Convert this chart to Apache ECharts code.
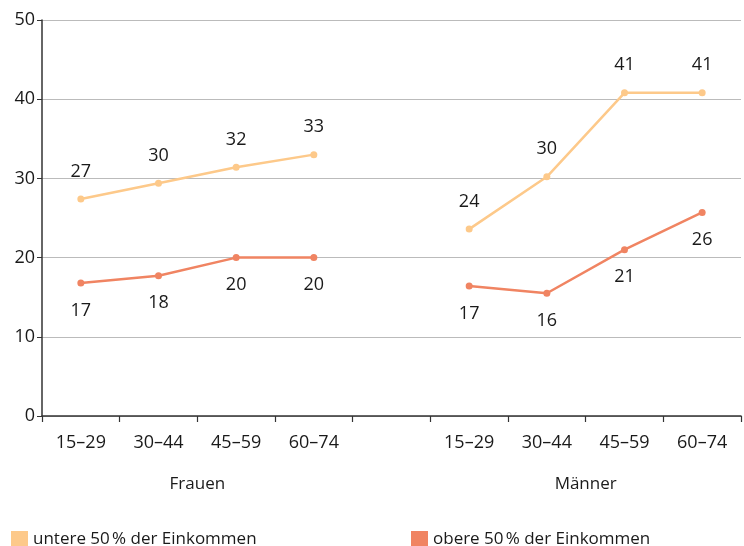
<!DOCTYPE html>
<html><head><meta charset="utf-8">
<script src="https://cdn.jsdelivr.net/npm/echarts@6/dist/echarts.min.js"></script>
<style>html,body{margin:0;padding:0;background:#fff}#c{width:744px;height:546px}</style>
</head><body><div id="c"></div>
<script>
const categories = ['15–29','30–44','45–59','60–74','','15–29','30–44','45–59','60–74'];
const groups = ['Frauen','Männer'];
const seriesNames = ['untere 50\u202F% der Einkommen','obere 50\u202F% der Einkommen'];
const untereValues = [27.4, 29.4, 31.4, 33.0, null, 23.6, 30.2, 40.8, 40.8];
const untereLabels = ['27','30','32','33','','24','30','41','41'];
const obereValues = [16.8, 17.7, 20.0, 20.0, null, 16.4, 15.5, 21.0, 25.7];
const obereLabels = ['17','18','20','20','','17','16','21','26'];
const yTicks = [0,10,20,30,40,50];

const FONT = '"Open Sans", "Noto Sans", sans-serif';
const C1 = '#FDC98A', C2 = '#F08462';
const chart = echarts.init(document.getElementById('c'), null, {renderer:'canvas'});
function mk(name, vals, labs, color, pos){
  return {
    name, type:'line', data: vals, connectNulls:false,
    symbol:'circle', symbolSize:7, lineStyle:{color, width:2.5}, itemStyle:{color},
    label:{show:true, position:pos, distance:15, fontFamily:FONT, fontSize:18, color:'#1a1a1a',
      formatter:p=>labs[p.dataIndex]},
    emphasis:{disabled:true}, animation:false
  };
}
chart.setOption({
  animation:false,
  grid:{left:42, right:3, top:20, bottom:130, containLabel:false},
  legend:[
    {data:[{name:seriesNames[0], icon:'rect'}], left:6, top:526, itemWidth:17, itemHeight:17, itemGap:8,
      textStyle:{fontFamily:FONT, fontSize:17, color:'#1a1a1a'}, selectedMode:false},
    {data:[{name:seriesNames[1], icon:'rect'}], left:406, top:526, itemWidth:17, itemHeight:17, itemGap:8,
      textStyle:{fontFamily:FONT, fontSize:17, color:'#1a1a1a'}, selectedMode:false}
  ],
  xAxis:{type:'category', data:categories, boundaryGap:true,
    axisLine:{lineStyle:{color:'#333', width:1.5}},
    axisTick:{show:true, length:6, lineStyle:{color:'#333', width:1.2}},
    axisLabel:{fontFamily:FONT, fontSize:18, color:'#1a1a1a', margin:18, interval:0}},
  yAxis:{type:'value', min:0, max:50, interval:10,
    axisLine:{show:true, lineStyle:{color:'#333', width:1.5}},
    axisTick:{show:true, length:5, lineStyle:{color:'#333'}},
    axisLabel:{fontFamily:FONT, fontSize:18, color:'#1a1a1a', margin:7, formatter:v=>yTicks.includes(v)?String(v):''},
    splitLine:{lineStyle:{color:'#bbbbbb', width:1.2}}},
  series:[
    {...mk(seriesNames[0], untereValues, untereLabels, C1, 'top')},
    {...mk(seriesNames[1], obereValues, obereLabels, C2, 'bottom')}
  ]
});
const y0 = chart.convertToPixel({yAxisIndex:0}, 0);
const gx = [
  (chart.convertToPixel({xAxisIndex:0}, 1) + chart.convertToPixel({xAxisIndex:0}, 2))/2,
  (chart.convertToPixel({xAxisIndex:0}, 6) + chart.convertToPixel({xAxisIndex:0}, 7))/2
];
chart.setOption({graphic: groups.map((g,i)=>({type:'text', x:gx[i], y:y0+68,
  style:{text:g, font:'17px '+FONT, fill:'#1a1a1a', textAlign:'center', textVerticalAlign:'middle'}}))});
</script></body></html>
